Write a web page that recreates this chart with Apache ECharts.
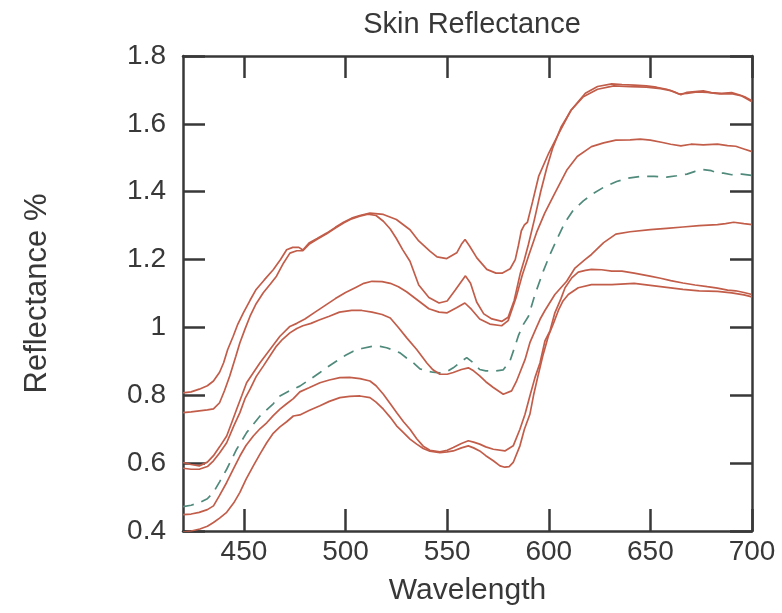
<!DOCTYPE html>
<html><head><meta charset="utf-8">
<script src="https://cdn.jsdelivr.net/npm/echarts@6/dist/echarts.min.js"></script>
<style>html,body{margin:0;padding:0;background:#fff}#c{width:782px;height:613px}</style>
</head><body><div id="c"></div><script>
const chartTitle = 'Skin Reflectance';
const xName = 'Wavelength';
const yName = 'Reflectance %';
const xTicks = [450, 500, 550, 600, 650, 700];

// [wavelength, reflectance]
const curveA = [[420,0.807],[424,0.81],[428,0.818],[432,0.828],[435,0.842],[438,0.868],[440,0.896],[442,0.935],[444.7,0.974],[447,1.01],[449.7,1.043],[453,1.08],[456,1.112],[460,1.14],[464.4,1.17],[468,1.2],[471,1.229],[474,1.236],[477,1.236],[479,1.228],[482,1.249],[486,1.262],[490.7,1.278],[495,1.295],[499,1.31],[503,1.322],[507,1.33],[512,1.337],[518.6,1.333],[525,1.318],[531.7,1.288],[536,1.255],[541.5,1.225],[545,1.208],[549.8,1.203],[554.7,1.22],[557,1.245],[558.8,1.259],[561,1.24],[564.6,1.205],[569.5,1.171],[574,1.16],[577,1.16],[581,1.173],[583.5,1.2],[585,1.24],[586.5,1.285],[588,1.302],[589.5,1.31],[592,1.37],[595,1.445],[600,1.514],[605,1.573],[611,1.641],[618,1.69],[624,1.71],[631,1.718],[636,1.716],[642,1.714],[648,1.712],[653,1.708],[658,1.702],[662,1.694],[665,1.686],[668,1.693],[672,1.695],[676,1.697],[680,1.692],[685,1.69],[690,1.692],[694,1.685],[697,1.678],[700,1.668]];
const curveB = [[420,0.749],[424,0.751],[428,0.754],[432,0.757],[435,0.76],[438,0.778],[440.5,0.815],[443,0.857],[446,0.915],[448,0.955],[450.5,0.995],[453,1.033],[456,1.07],[459.5,1.102],[463,1.128],[466,1.151],[469.5,1.19],[472.6,1.219],[476,1.226],[479,1.226],[482,1.245],[486,1.26],[490.7,1.276],[495,1.293],[499,1.308],[503,1.32],[507,1.328],[511,1.334],[515,1.33],[518.6,1.313],[522,1.29],[525,1.262],[528,1.23],[531.7,1.195],[536,1.125],[541,1.088],[546,1.072],[550,1.078],[554,1.11],[559,1.152],[561.5,1.13],[564.5,1.075],[568,1.04],[572,1.025],[577,1.018],[580,1.03],[583,1.08],[586,1.16],[588,1.2],[590,1.245],[593,1.32],[596,1.4],[599,1.47],[602,1.53],[606,1.59],[611,1.64],[617,1.68],[624,1.702],[632,1.712],[640,1.71],[648,1.708],[655,1.704],[660,1.698],[664,1.688],[668,1.69],[673,1.694],[678,1.693],[684,1.688],[690,1.689],[695,1.682],[700,1.665]];
const curveC = [[420,0.602],[424,0.596],[428,0.592],[432,0.603],[435,0.622],[438,0.648],[441.5,0.68],[444,0.72],[446.4,0.759],[449,0.8],[451.3,0.837],[455,0.87],[457.9,0.896],[462.8,0.935],[467.7,0.974],[472.6,1.003],[476,1.012],[480,1.025],[485,1.045],[490,1.065],[495,1.085],[500,1.103],[505,1.118],[509,1.13],[513,1.136],[518,1.135],[522,1.13],[526,1.12],[530,1.105],[536,1.078],[541,1.055],[546,1.045],[550,1.043],[554.6,1.058],[558.7,1.072],[562,1.053],[566,1.025],[571,1.01],[576.8,1.005],[580,1.02],[584,1.09],[587,1.155],[590,1.21],[594,1.28],[598,1.337],[603,1.396],[609,1.465],[614,1.504],[621,1.533],[627,1.544],[633,1.552],[640,1.553],[645,1.555],[650,1.552],[656,1.545],[660,1.54],[665,1.535],[670,1.54],[676,1.538],[683,1.54],[688,1.536],[692,1.534],[696,1.526],[700,1.518]];
const curveD = [[420,0.585],[424,0.582],[428,0.582],[432,0.59],[435,0.607],[438,0.63],[441.5,0.66],[445,0.71],[448,0.749],[450.5,0.79],[453,0.818],[456,0.855],[459.5,0.886],[463,0.918],[466,0.945],[469,0.965],[472.6,0.984],[476,0.997],[479,1.005],[483,1.012],[487,1.022],[492,1.033],[497,1.045],[503,1.05],[508,1.05],[513,1.045],[518,1.038],[522,1.028],[526,1.0],[530,0.97],[535,0.935],[540,0.895],[543,0.875],[546.4,0.862],[550,0.862],[553,0.867],[557,0.876],[560.4,0.881],[563,0.872],[566,0.857],[569,0.84],[572.7,0.823],[577.6,0.803],[581.7,0.813],[584,0.84],[585.8,0.867],[588.3,0.905],[590.7,0.955],[593.2,0.99],[595.7,1.024],[598.1,1.05],[603,1.097],[608.8,1.136],[612.9,1.175],[617.8,1.2],[621,1.215],[627,1.25],[633,1.275],[640,1.282],[650,1.288],[658,1.292],[666,1.296],[674,1.3],[683,1.303],[687,1.306],[691,1.31],[696,1.306],[700,1.303]];
const curveE = [[420,0.448],[424,0.45],[428,0.455],[432,0.463],[435,0.474],[438,0.505],[441.5,0.543],[445,0.585],[448,0.621],[451,0.652],[454.6,0.68],[458,0.702],[461.2,0.719],[464.4,0.74],[467.7,0.759],[471,0.775],[474.3,0.79],[477.5,0.81],[482,0.822],[487.4,0.837],[492,0.845],[497.2,0.852],[502,0.853],[507.1,0.849],[512,0.842],[515,0.828],[518.6,0.803],[522,0.775],[525.1,0.749],[528.5,0.722],[531.7,0.7],[535,0.672],[538.2,0.65],[541.5,0.638],[546.4,0.633],[550,0.638],[553,0.646],[557,0.658],[560.4,0.666],[563,0.662],[566,0.656],[569,0.648],[572.7,0.641],[578.4,0.636],[582.5,0.651],[585.8,0.7],[588.3,0.744],[590.7,0.798],[593.2,0.852],[595.7,0.896],[598.1,0.96],[600.6,0.99],[603,1.043],[606,1.085],[608,1.117],[611.3,1.146],[614.5,1.163],[618,1.168],[621,1.171],[626,1.17],[631,1.166],[636,1.166],[642,1.16],[649.8,1.151],[655,1.145],[660,1.138],[666,1.131],[672,1.125],[678,1.12],[683,1.116],[688,1.11],[692,1.108],[696,1.103],[700,1.097]];
const curveF = [[420,0.397],[424,0.4],[428.3,0.406],[432,0.414],[435,0.425],[438,0.438],[441.5,0.455],[445,0.483],[448,0.514],[451,0.552],[454.6,0.592],[458,0.628],[461.2,0.66],[464.4,0.688],[467.7,0.707],[471,0.722],[474.3,0.739],[477.5,0.742],[482,0.755],[487.4,0.769],[492,0.782],[497.2,0.793],[502,0.797],[507.1,0.798],[512,0.793],[515,0.78],[518.6,0.759],[522,0.735],[525.1,0.71],[528.5,0.69],[531.7,0.671],[535,0.656],[538.2,0.643],[541.5,0.635],[546.4,0.631],[550,0.633],[553,0.636],[557,0.645],[560.4,0.651],[563,0.645],[566,0.636],[569,0.622],[572.7,0.607],[576,0.592],[578.4,0.588],[580.5,0.59],[582.5,0.602],[585.8,0.651],[588,0.7],[590.7,0.744],[592.5,0.8],[594.8,0.86],[597,0.915],[599.8,0.975],[602.2,1.01],[604.7,1.05],[607,1.078],[609.6,1.097],[614.5,1.117],[621,1.126],[631,1.126],[642,1.13],[650,1.124],[658,1.118],[666,1.112],[674,1.108],[683,1.106],[690,1.102],[696,1.096],[700,1.09]];
const curveMean = [[420,0.472],[424,0.476],[428.3,0.484],[432,0.495],[435,0.514],[438,0.545],[441.5,0.582],[444,0.612],[446.4,0.641],[451.3,0.69],[457.9,0.739],[464.4,0.775],[467.7,0.798],[472,0.812],[477.5,0.827],[482,0.845],[487.4,0.867],[491,0.883],[495.6,0.901],[500,0.918],[503.8,0.93],[508,0.938],[513.6,0.945],[517,0.944],[520.2,0.94],[523.5,0.933],[526.8,0.925],[530,0.91],[533.3,0.896],[536.6,0.878],[540,0.871],[543,0.868],[546.4,0.866],[550,0.87],[553,0.881],[556,0.895],[559.6,0.911],[562.8,0.896],[566,0.876],[569,0.872],[572.7,0.871],[577.6,0.875],[580.9,0.901],[583.4,0.945],[585,0.975],[587.5,1.009],[590,1.033],[593.2,1.097],[597.3,1.166],[600.6,1.215],[604,1.26],[608,1.31],[612,1.345],[617,1.373],[622,1.395],[627,1.413],[633.4,1.43],[639,1.44],[645,1.445],[652,1.445],[658,1.443],[663,1.447],[668,1.452],[672,1.46],[676,1.465],[680,1.462],[683,1.455],[686,1.455],[690,1.45],[695,1.452],[700,1.448]];

const redCurves = [curveA, curveB, curveC, curveD, curveE, curveF];

const FONT = 'Liberation Sans, Arial, sans-serif';
const INK = '#383838';
const RED = '#c25d4a';
const GREEN = '#4f8a7b';

const frameLine = { show: true, lineStyle: { color: INK, width: 2.5 } };
const tickStyle = { inside: true, length: 22, lineStyle: { color: INK, width: 2.5 } };

const series = redCurves.map(d => ({
  type: 'line', data: d, showSymbol: false, symbol: 'none',
  lineStyle: { color: RED, width: 1.7 }, z: 3
}));
series.push({
  type: 'line', data: curveMean, showSymbol: false, symbol: 'none',
  lineStyle: { color: GREEN, width: 1.7, type: [11, 8] }, z: 2
});

const chart = echarts.init(document.getElementById('c'), null, { renderer: 'canvas' });
chart.setOption({
  animation: false,
  backgroundColor: '#ffffff',
  title: {
    text: chartTitle, left: 467, top: 5, textAlign: 'center',
    textStyle: { fontFamily: FONT, fontSize: 29, fontWeight: 'normal', color: INK }
  },
  grid: { left: 183, right: 30, top: 56, bottom: 82 },
  xAxis: [{
    type: 'value', min: 420, max: 700, position: 'bottom',
    name: xName, nameLocation: 'middle', nameGap: 45,
    nameTextStyle: { fontFamily: FONT, fontSize: 30, color: INK },
    axisLine: frameLine,
    axisTick: Object.assign({ customValues: xTicks }, tickStyle),
    axisLabel: { customValues: xTicks, margin: 7, fontFamily: FONT, fontSize: 28, color: INK },
    splitLine: { show: false }
  }, {
    type: 'value', min: 420, max: 700, position: 'top',
    axisLine: frameLine,
    axisTick: Object.assign({ customValues: xTicks }, tickStyle),
    axisLabel: { show: false },
    splitLine: { show: false }
  }],
  yAxis: [{
    type: 'value', min: 0.4, max: 1.8, interval: 0.2, position: 'left',
    name: yName, nameLocation: 'middle', nameGap: 130, nameRotate: 90,
    nameTextStyle: { fontFamily: FONT, fontSize: 31, color: INK },
    axisLine: frameLine,
    axisTick: tickStyle,
    axisLabel: { margin: 17, fontFamily: FONT, fontSize: 28, color: INK },
    splitLine: { show: false }
  }, {
    type: 'value', min: 0.4, max: 1.8, interval: 0.2, position: 'right',
    axisLine: frameLine,
    axisTick: tickStyle,
    axisLabel: { show: false },
    splitLine: { show: false }
  }],
  series: series
});
</script></body></html>
